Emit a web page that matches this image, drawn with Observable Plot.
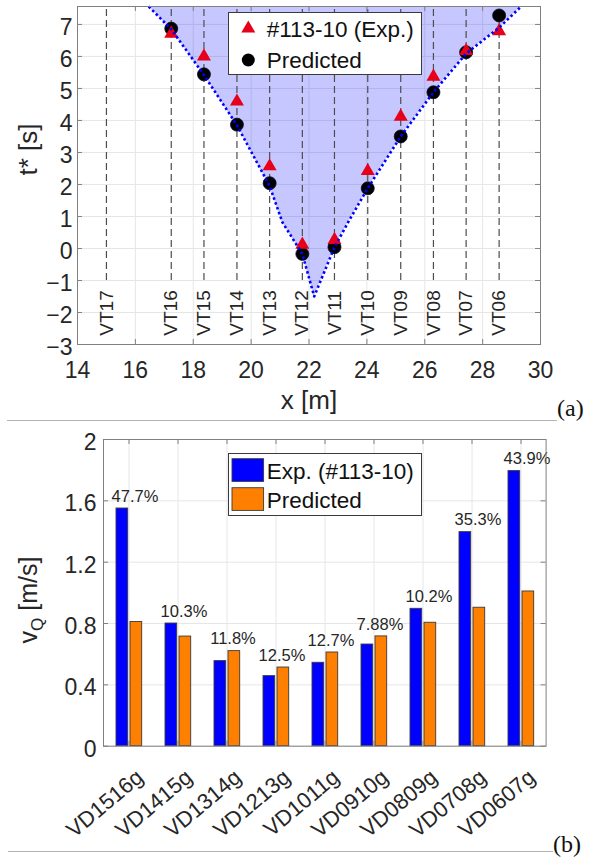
<!DOCTYPE html>
<html><head><meta charset="utf-8">
<script src="https://cdn.jsdelivr.net/npm/d3@7"></script>
<script src="https://cdn.jsdelivr.net/npm/@observablehq/plot@0.6"></script>
<style>
body{margin:0;background:#fff;width:591px;height:857px;position:relative;overflow:hidden;font-family:"Liberation Sans",Arial,sans-serif;color:#262626}
.abs{position:absolute}
svg{overflow:visible}
.sep{position:absolute;height:0;border-top:1.5px solid #b4b4b4}
.tag{position:absolute;font-family:"Liberation Serif","Times New Roman",serif;font-size:24px;color:#111;line-height:1}
</style></head><body>
<div id="a" class="abs" style="left:0;top:0"></div>
<div id="b" class="abs" style="left:0;top:420px"></div>
<div class="sep" style="left:7px;top:420px;width:550px"></div>
<div class="tag" style="left:557px;top:396px">(a)</div>
<div class="sep" style="left:8px;top:851px;width:545px"></div>
<div class="tag" style="left:553px;top:832px">(b)</div>
<div id="legA" class="abs" style="left:228px;top:12px"></div>
<div id="legB" class="abs" style="left:228px;top:453px"></div>
<div id="ylabB" class="abs" style="left:31px;top:600px;transform:translate(-50%,-50%) rotate(-90deg);font-size:25px;white-space:nowrap">v<sub style="font-size:17px">Q</sub> [m/s]</div>
<script>
// ---------- (a) data ----------
const vtNames = ["VT17","VT16","VT15","VT14","VT13","VT12","VT11","VT10","VT09","VT08","VT07","VT06"];
const vtX = [15.0, 17.24, 18.37, 19.51, 20.64, 21.77, 22.88, 24.03, 25.17, 26.30, 27.43, 28.57];
const sensorX = [17.24, 18.37, 19.51, 20.64, 21.77, 22.88, 24.03, 25.17, 26.30, 27.43, 28.57];
const expT  = [6.71, 6.00, 4.59, 2.57, 0.12, 0.27, 2.42, 4.12, 5.37, 6.17, 6.79];
const predT = [6.87, 5.44, 3.87, 2.04, -0.17, 0.04, 1.88, 3.50, 4.88, 6.13, 7.28];
const frontX = [16.46, 17.24, 18.37, 19.51, 20.64, 21.08, 21.77, 22.18, 22.88, 23.39, 24.03, 25.17, 26.30, 27.43, 28.57, 29.33];
const frontT = [7.56, 6.85, 5.42, 3.85, 1.95, 0.82, -0.17, -1.50, 0.04, 0.88, 1.88, 3.50, 4.88, 6.09, 6.90, 7.56];
const xTicksA = [14, 16, 18, 20, 22, 24, 26, 28, 30];
const yTicksA = [-3, -2, -1, 0, 1, 2, 3, 4, 5, 6, 7];
const probeBottom = -1;
const yTopA = 7.56;

// ---------- (b) data ----------
const cats = ["VD1516g","VD1415g","VD1314g","VD1213g","VD1011g","VD0910g","VD0809g","VD0708g","VD0607g"];
const expV  = [1.55, 0.80, 0.555, 0.457, 0.544, 0.663, 0.896, 1.396, 1.794];
const predV = [0.81, 0.715, 0.62, 0.513, 0.611, 0.716, 0.805, 0.903, 1.009];
const errLabels = ["47.7%","10.3%","11.8%","12.5%","12.7%","7.88%","10.2%","35.3%","43.9%"];
const yTicksB = [0, 0.4, 0.8, 1.2, 1.6, 2];

const font = "Liberation Sans, Arial, Helvetica, sans-serif";
const ink = "#262626";
const gridC = "#e6e6e6";
const frameC = "#808080";

// ---------- plot (a) ----------
const front = frontX.map((x, i) => ({x, t: frontT[i]}));
const pts = sensorX.map((x, i) => ({x, e: expT[i], p: predT[i]}));
const hA = 420, mtA = 6, mbA = 76, innerHA = hA - mtA - mbA;
const wA = 560, mlA = 77, mrA = 20, innerWA = wA - mlA - mrA;

const plotA = Plot.plot({
  width: wA, height: hA, marginLeft: mlA, marginRight: mrA, marginTop: mtA, marginBottom: mbA,
  style: {fontFamily: font, color: ink, background: "transparent", overflow: "visible"},
  x: {domain: [14, 30]},
  y: {domain: [-3, yTopA]},
  marks: [
    Plot.gridX(xTicksA, {stroke: gridC, strokeOpacity: 1}),
    Plot.gridY(yTicksA, {stroke: gridC, strokeOpacity: 1}),
    Plot.areaY(front, {x: "x", y1: "t", y2: yTopA, fill: "#0000ff", fillOpacity: 0.22}),
    Plot.ruleX(vtX, {y1: probeBottom, y2: yTopA, stroke: "#4d4d4d", strokeWidth: 1.2, strokeDasharray: "7,4"}),
    Plot.text(vtNames, {x: vtX, frameAnchor: "bottom", dy: -31.5, rotate: -90, fontSize: 19, fill: ink, lineAnchor: "middle"}),
    Plot.dot(pts, {x: "x", y: "p", r: 6.5, fill: "black", stroke: "#0a0a30", strokeWidth: 0.8}),
    Plot.dot(pts, {x: "x", y: "e", symbol: "triangle", r: 5.2, fill: "#e6001a"}),
    Plot.line(front, {x: "x", y: "t", stroke: "#0000ff", strokeWidth: 2.6, strokeDasharray: "2.5,2.6", strokeLinecap: "butt"}),
    Plot.frame({stroke: frameC}),
    Plot.tickX(xTicksA, {x: d => d, insetTop: innerHA - 5, stroke: frameC}),
    Plot.tickX(xTicksA, {x: d => d, insetBottom: innerHA - 5, stroke: frameC}),
    Plot.tickY(yTicksA, {y: d => d, insetRight: innerWA - 5, stroke: frameC}),
    Plot.tickY(yTicksA, {y: d => d, insetLeft: innerWA - 5, stroke: frameC}),
    Plot.axisX(xTicksA, {tickSize: 0, tickPadding: 17, fontSize: 23, label: null}),
    Plot.axisY(yTicksA, {tickSize: 0, tickPadding: 5, fontSize: 23, label: null, dy: 3}),
    Plot.text(["x [m]"], {frameAnchor: "bottom", dy: 64, fontSize: 26, fill: ink}),
    Plot.text(["t* [s]"], {frameAnchor: "left", dx: -49, rotate: -90, fontSize: 26, fill: ink})
  ]
});
document.getElementById("a").appendChild(plotA);

// ---------- plot (b) ----------
const bars = cats.map((c, i) => ({c, e: expV[i], p: predV[i], lab: errLabels[i], top: Math.max(expV[i], predV[i])}));
const hB = 437, mtB = 19, mbB = 111.3, innerHB = hB - mtB - mbB;
const wB = 560, mlB = 103, mrB = 14.4, innerWB = wB - mlB - mrB;

const plotB = Plot.plot({
  width: wB, height: hB, marginLeft: mlB, marginRight: mrB, marginTop: mtB, marginBottom: mbB,
  style: {fontFamily: font, color: ink, background: "transparent", overflow: "visible"},
  x: {type: "band", domain: cats, padding: 0, axis: null},
  y: {domain: [0, 2]},
  marks: [
    Plot.gridX(cats, {stroke: gridC, strokeOpacity: 1}),
    Plot.gridY(yTicksB, {stroke: gridC, strokeOpacity: 1}),
    Plot.barY(bars, {x: "c", y: "e", insetLeft: 12, insetRight: 25.3, fill: "#0000ff", stroke: "#3a3a3a", strokeWidth: 0.9}),
    Plot.barY(bars, {x: "c", y: "p", insetLeft: 26, insetRight: 11.3, fill: "#ff7f00", stroke: "#3a3a3a", strokeWidth: 0.9}),
    Plot.text(bars, {x: "c", y: "top", text: "lab", dx: 6, dy: -12, fontSize: 16.5, fill: ink}),
    Plot.frame({stroke: frameC}),
    Plot.tickX(cats, {x: d => d, insetTop: innerHB - 5, stroke: frameC}),
    Plot.tickX(cats, {x: d => d, insetBottom: innerHB - 5, stroke: frameC}),
    Plot.tickY(yTicksB, {y: d => d, insetRight: innerWB - 5, stroke: frameC}),
    Plot.tickY(yTicksB, {y: d => d, insetLeft: innerWB - 5, stroke: frameC}),
    Plot.axisY(yTicksB, {tickSize: 0, tickPadding: 7, fontSize: 23, label: null, dy: 3, tickFormat: d => String(d)}),
    Plot.text(cats, {x: d => d, frameAnchor: "bottom", rotate: -40, textAnchor: "end", lineAnchor: "middle", dx: 11, dy: 28, fontSize: 22, fill: ink})
  ]
});
document.getElementById("b").appendChild(plotB);

// ---------- legends ----------
function legend(el, w, h, items) {
  const svg = d3.select(el).append("svg").attr("width", w).attr("height", h);
  svg.append("rect").attr("x", 0.5).attr("y", 0.5).attr("width", w - 1).attr("height", h - 1)
    .attr("fill", "white").attr("stroke", "#3a3a3a").attr("stroke-width", 1);
  items.forEach(it => {
    if (it.kind === "tri") {
      svg.append("path").attr("d", d3.symbol(d3.symbolTriangle, 85)()).attr("transform", `translate(${it.sx},${it.sy})`).attr("fill", it.color);
    } else if (it.kind === "dot") {
      svg.append("circle").attr("cx", it.sx).attr("cy", it.sy).attr("r", 6.5).attr("fill", it.color);
    } else {
      svg.append("rect").attr("x", 4).attr("y", it.sy).attr("width", 31.6).attr("height", 22.7)
        .attr("fill", it.color).attr("stroke", "#3a3a3a").attr("stroke-width", 0.9);
    }
    svg.append("text").attr("x", it.tx).attr("y", it.ty).attr("font-family", font).attr("font-size", 22.5)
      .attr("fill", "#111").text(it.label);
  });
}
legend(document.getElementById("legA"), 194, 63, [
  {kind: "tri", sx: 20.3, sy: 16.5, color: "#e6001a", tx: 38.7, ty: 25, label: "#113-10 (Exp.)"},
  {kind: "dot", sx: 20.3, sy: 48, color: "black", tx: 38.7, ty: 56, label: "Predicted"}
]);
legend(document.getElementById("legB"), 194, 63, [
  {kind: "sw", sy: 5.7, color: "#0000ff", tx: 38.7, ty: 26, label: "Exp. (#113-10)"},
  {kind: "sw", sy: 34.7, color: "#ff7f00", tx: 38.7, ty: 55, label: "Predicted"}
]);
</script>
</body></html>
